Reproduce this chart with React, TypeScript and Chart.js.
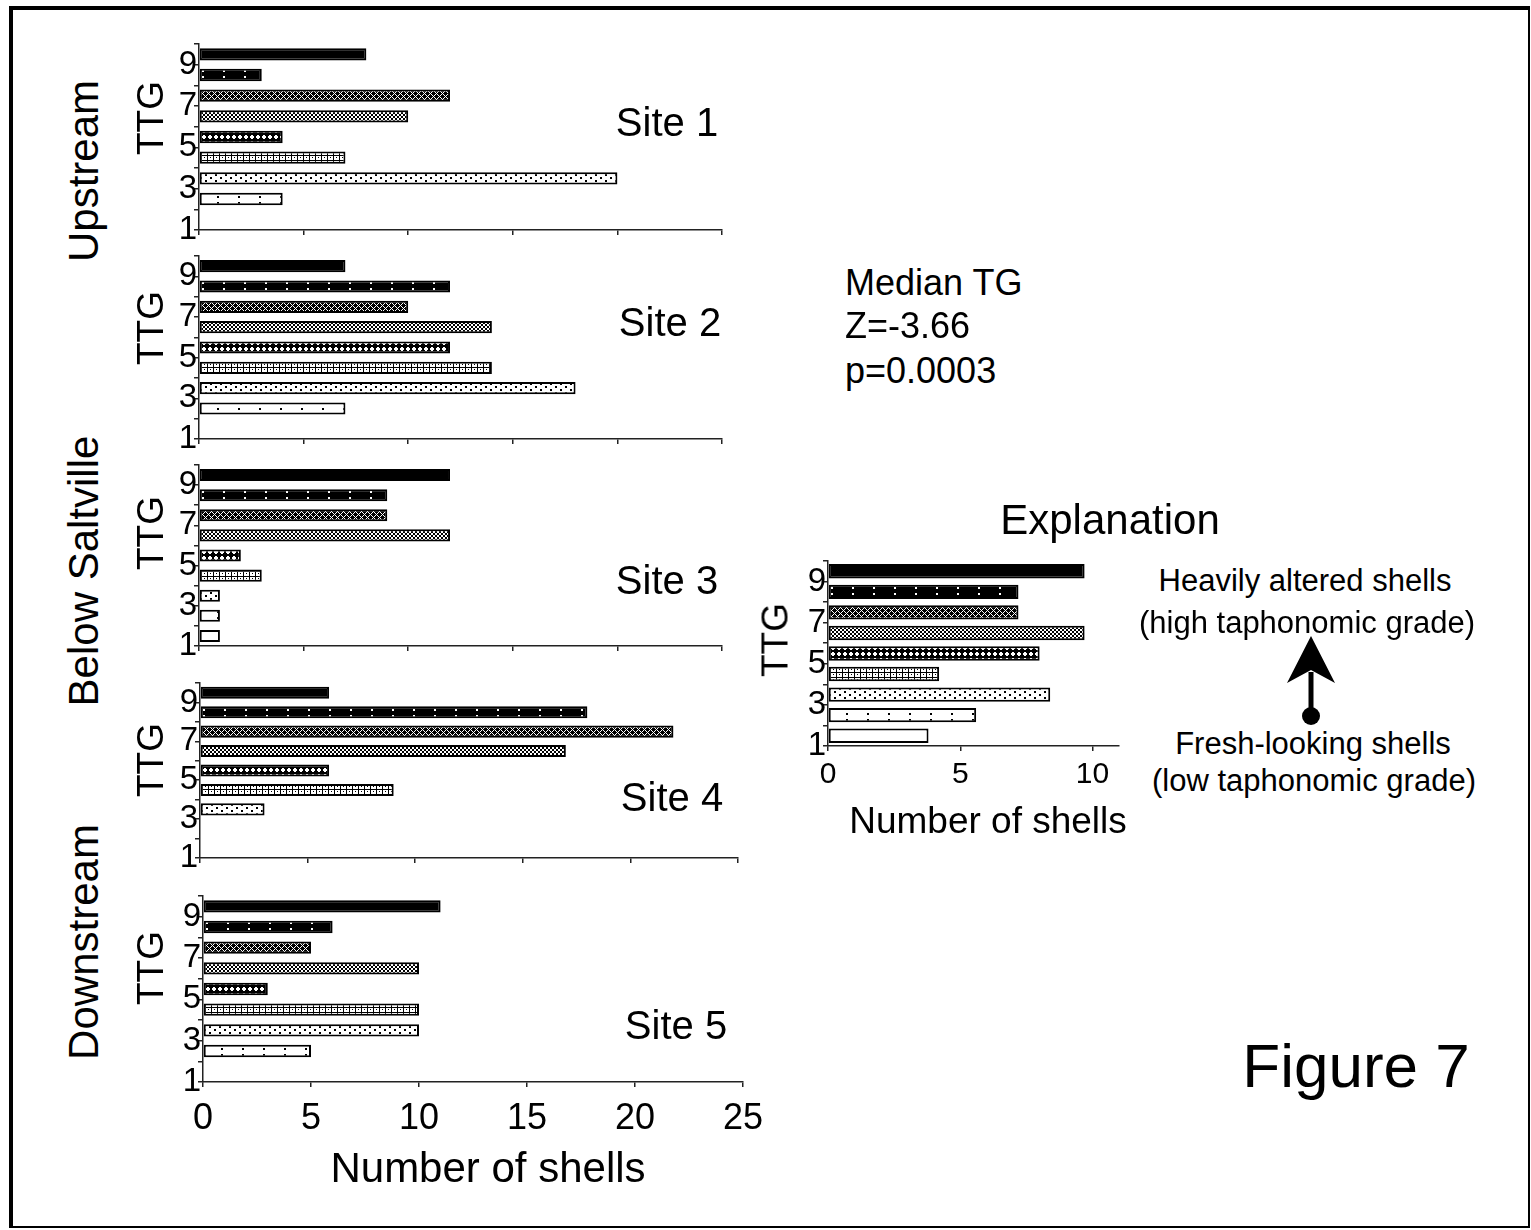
import React, { useEffect, useRef } from "react";
import { Chart, registerables } from "chart.js";

Chart.register(...registerables);

const FONT = '"Liberation Sans", Arial, Helvetica, sans-serif';

// TTG = total taphonomic grade (bottom to top)
const TTG_LEVELS = [1, 2, 3, 4, 5, 6, 7, 8, 9];
const Y_TICK_LABELS = ["1", "3", "5", "7", "9"];
const SITE_X_TICKS = [0, 5, 10, 15, 20, 25];
const EXPL_X_TICKS = [0, 5, 10];

// Number of shells per TTG (1..9)
const SITE1_SHELLS = [0, 4, 20, 7, 4, 10, 12, 3, 8];
const SITE2_SHELLS = [0, 7, 18, 14, 12, 14, 10, 12, 7];
const SITE3_SHELLS = [1, 1, 1, 3, 2, 12, 9, 9, 12];
const SITE4_SHELLS = [0, 0, 3, 9, 6, 17, 22, 18, 6];
const SITE5_SHELLS = [0, 5, 10, 10, 3, 10, 5, 6, 11];
const EXPLANATION_SHELLS = [3.8, 5.6, 8.4, 4.2, 8.0, 9.7, 7.2, 7.2, 9.7];

type Spec = {
  counts: number[];
  x0: number;
  x1: number;
  top: number;
  bottom: number;
  xMax: number;
  xTicks: number[];
  showX: boolean;
  xFont: number;
  xPad: number;
  barPct: number;
};

const PANELS: Spec[] = [
  { counts: SITE1_SHELLS, x0: 199, x1: 722, top: 44, bottom: 230, xMax: 25, xTicks: SITE_X_TICKS, showX: false, xFont: 36, xPad: 10, barPct: 0.6 },
  { counts: SITE2_SHELLS, x0: 199, x1: 722, top: 256, bottom: 439, xMax: 25, xTicks: SITE_X_TICKS, showX: false, xFont: 36, xPad: 10, barPct: 0.6 },
  { counts: SITE3_SHELLS, x0: 199, x1: 722, top: 465, bottom: 646, xMax: 25, xTicks: SITE_X_TICKS, showX: false, xFont: 36, xPad: 10, barPct: 0.6 },
  { counts: SITE4_SHELLS, x0: 200, x1: 738, top: 683, bottom: 858, xMax: 25, xTicks: SITE_X_TICKS, showX: false, xFont: 36, xPad: 10, barPct: 0.62 },
  { counts: SITE5_SHELLS, x0: 203, x1: 743, top: 896, bottom: 1082, xMax: 25, xTicks: SITE_X_TICKS, showX: true, xFont: 36, xPad: 10, barPct: 0.6 },
  { counts: EXPLANATION_SHELLS, x0: 828, x1: 1119, top: 561, bottom: 746, xMax: 11, xTicks: EXPL_X_TICKS, showX: true, xFont: 30, xPad: 6, barPct: 0.7 },
];

function rectTile(
  ctx: CanvasRenderingContext2D,
  w: number,
  h: number,
  bg: string,
  fg: string,
  rects: number[][]
): CanvasPattern | string {
  const c = document.createElement("canvas");
  c.width = w;
  c.height = h;
  const g = c.getContext("2d")!;
  g.fillStyle = bg;
  g.fillRect(0, 0, w, h);
  g.fillStyle = fg;
  rects.forEach(([x, y, rw, rh]) => g.fillRect(x, y, rw, rh));
  return ctx.createPattern(c, "repeat") || bg;
}

function makeFills(ctx: CanvasRenderingContext2D) {
  const W = "#ffffff";
  const K = "#000000";
  return [
    W,
    rectTile(ctx, 21, 6, W, K, [[4, 2, 2, 2]]),
    rectTile(ctx, 10, 6, W, K, [[1, 1, 2, 2], [6, 4, 2, 2]]),
    rectTile(ctx, 6, 5, W, K, [[0, 0, 6, 1], [0, 0, 1, 5], [3, 2, 1, 1]]),
    rectTile(ctx, 6, 6, K, W, [[2, 1, 2, 4], [1, 2, 4, 2]]),
    rectTile(ctx, 4, 4, W, K, [[0, 0, 2, 2], [2, 2, 2, 2]]),
    rectTile(ctx, 6, 6, K, W, [[0, 0, 1, 1], [2, 0, 1, 1], [1, 1, 1, 1], [0, 2, 1, 1], [2, 2, 1, 1], [3, 3, 1, 1], [5, 3, 1, 1], [4, 4, 1, 1], [3, 5, 1, 1], [5, 5, 1, 1]]),
    rectTile(ctx, 21, 6, K, W, [[10, 2, 2, 2]]),
    K,
  ];
}

function Panel({ spec }: { spec: Spec }) {
  const ref = useRef<HTMLCanvasElement | null>(null);
  const YW = 70;
  const PT = 24;
  const PR = 32;
  const XH = spec.showX ? 70 : 24;
  const left = Math.round(spec.x0) - YW;
  const top = Math.round(spec.top) - PT;
  const w = Math.round(spec.x1 - spec.x0) + YW + PR;
  const h = Math.round(spec.bottom - spec.top) + PT + XH;

  useEffect(() => {
    const canvas = ref.current;
    if (!canvas) return;
    const ctx = canvas.getContext("2d")!;
    const fills = makeFills(ctx);
    const axisGrid = { offset: false, drawOnChartArea: false, drawTicks: true, tickLength: 5, color: "#222", lineWidth: 1.5 };
    const axisBorder = { display: true, color: "#222", width: 1.5 };
    const chart = new Chart(ctx, {
      type: "bar",
      data: {
        datasets: [
          {
            data: TTG_LEVELS.map((lvl, i) => ({ x: spec.counts[i] > 0 ? spec.counts[i] : null, y: lvl + 0.5 })) as any,
            backgroundColor: fills as any,
            borderColor: "#000",
            borderWidth: 2,
            borderSkipped: false,
            barPercentage: spec.barPct,
            categoryPercentage: 1,
          },
        ],
      },
      options: {
        indexAxis: "y",
        responsive: false,
        maintainAspectRatio: false,
        animation: false,
        events: [],
        layout: { padding: { top: PT, right: PR, left: 0, bottom: 0 } },
        plugins: { legend: { display: false }, tooltip: { enabled: false } },
        scales: {
          x: {
            type: "linear",
            position: "bottom",
            min: 0,
            max: spec.xMax,
            offset: false,
            afterFit: (s: any) => {
              s.height = XH;
            },
            afterBuildTicks: (s: any) => {
              s.ticks = spec.xTicks.map((v) => ({ value: v }));
            },
            ticks: {
              display: spec.showX,
              autoSkip: false,
              maxRotation: 0,
              font: { family: FONT, size: spec.xFont },
              color: "#000",
              padding: spec.xPad,
            },
            grid: axisGrid,
            border: axisBorder,
          },
          y: {
            type: "linear",
            position: "left",
            min: 1,
            max: 10,
            offset: false,
            afterFit: (s: any) => {
              s.width = YW;
            },
            ticks: {
              stepSize: 1,
              autoSkip: false,
              font: { family: FONT, size: 33 },
              color: "#000",
              padding: -3,
              callback: (v: any) => (Y_TICK_LABELS.includes(String(v)) ? String(v) : ""),
            },
            grid: axisGrid,
            border: axisBorder,
          },
        },
      } as any,
    });
    return () => chart.destroy();
  }, []);

  return (
    <canvas
      ref={ref}
      width={w}
      height={h}
      style={{ position: "absolute", left, top, width: w, height: h }}
    />
  );
}

type LabelProps = { text: string; x: number; y: number; size: number; rotate?: number; align?: "center" | "left" };

function Label({ text, x, y, size, rotate = 0, align = "center" }: LabelProps) {
  const tx = align === "left" ? "0" : "-50%";
  return (
    <div
      style={{
        position: "absolute",
        left: x,
        top: y,
        transform: `translate(${tx}, -50%) rotate(${rotate}deg)`,
        transformOrigin: align === "left" ? "left center" : "center center",
        fontFamily: FONT,
        fontSize: size,
        lineHeight: 1,
        whiteSpace: "nowrap",
        color: "#000",
      }}
    >
      {text}
    </div>
  );
}

const TEXTS: LabelProps[] = [
  { text: "Upstream", x: 84, y: 171, size: 42, rotate: -90 },
  { text: "Below Saltville", x: 84, y: 571, size: 42, rotate: -90 },
  { text: "Downstream", x: 84, y: 942, size: 42, rotate: -90 },
  { text: "TTG", x: 150, y: 118, size: 37, rotate: -90 },
  { text: "TTG", x: 150, y: 328, size: 37, rotate: -90 },
  { text: "TTG", x: 150, y: 533, size: 37, rotate: -90 },
  { text: "TTG", x: 150, y: 760, size: 37, rotate: -90 },
  { text: "TTG", x: 150, y: 968, size: 37, rotate: -90 },
  { text: "TTG", x: 775, y: 640, size: 37, rotate: -90 },
  { text: "Site 1", x: 667, y: 122, size: 40 },
  { text: "Site 2", x: 670, y: 322, size: 40 },
  { text: "Site 3", x: 667, y: 580, size: 40 },
  { text: "Site 4", x: 672, y: 797, size: 40 },
  { text: "Site 5", x: 676, y: 1025, size: 40 },
  { text: "Number of shells", x: 488, y: 1168, size: 42 },
  { text: "Number of shells", x: 988, y: 820, size: 37 },
  { text: "Median TG", x: 845, y: 283, size: 36, align: "left" },
  { text: "Z=-3.66", x: 845, y: 326, size: 36, align: "left" },
  { text: "p=0.0003", x: 845, y: 371, size: 36, align: "left" },
  { text: "Explanation", x: 1110, y: 520, size: 42 },
  { text: "Heavily altered shells", x: 1305, y: 580, size: 31 },
  { text: "(high taphonomic grade)", x: 1307, y: 622, size: 31 },
  { text: "Fresh-looking shells", x: 1313, y: 743, size: 31 },
  { text: "(low taphonomic grade)", x: 1314, y: 780, size: 31 },
  { text: "Figure 7", x: 1356, y: 1066, size: 62 },
];

export default function App() {
  useEffect(() => {
    document.body.style.margin = "0";
  }, []);
  return (
    <div style={{ position: "absolute", left: 0, top: 0, width: 1531, height: 1230, overflow: "hidden", background: "#fff" }}>
      <div
        style={{
          position: "absolute",
          left: 9,
          top: 6,
          width: 1521,
          height: 1222,
          boxSizing: "border-box",
          borderLeft: "4px solid #000",
          borderTop: "4px solid #000",
          borderRight: "2px solid #000",
          borderBottom: "2px solid #000",
        }}
      />
      {PANELS.map((p, i) => (
        <Panel key={i} spec={p} />
      ))}
      {TEXTS.map((t, i) => (
        <Label key={i} {...t} />
      ))}
      <svg width={1531} height={1230} style={{ position: "absolute", left: 0, top: 0, pointerEvents: "none" }}>
        <line x1={1311} y1={672} x2={1311} y2={716} stroke="#000" strokeWidth={5} />
        <polygon points="1311,636 1335,683 1311,670 1287,683" fill="#000" />
        <circle cx={1311} cy={716} r={9} fill="#000" />
      </svg>
    </div>
  );
}
